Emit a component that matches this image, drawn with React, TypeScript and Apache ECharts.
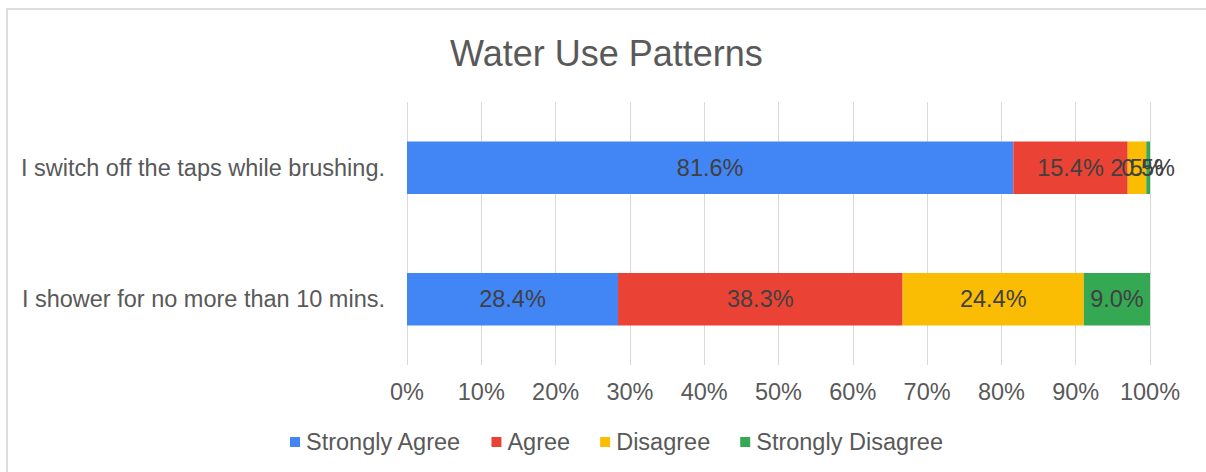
import React, { useEffect, useRef } from "react";
import * as echarts from "echarts";

const categories = ["I shower for no more than 10 mins.", "I switch off the taps while brushing."];
const seriesNames = ["Strongly Agree", "Agree", "Disagree", "Strongly Disagree"];
const stronglyAgree = [28.4, 81.6];
const agree = [38.3, 15.4];
const disagree = [24.4, 2.5];
const stronglyDisagree = [9.0, 0.5];
const colors = ["#4285F4", "#EA4335", "#FBBC04", "#34A853"];
const xTicks = [0, 10, 20, 30, 40, 50, 60, 70, 80, 90, 100];

export default function App() {
  const ref = useRef<HTMLDivElement>(null);
  useEffect(() => {
    if (!ref.current) return;
    const chart = echarts.init(ref.current, null, { renderer: "svg" });
    const font = "'Liberation Sans', Arial, sans-serif";
    const data = [stronglyAgree, agree, disagree, stronglyDisagree];
    chart.setOption({
      animation: false,
      textStyle: { fontFamily: font },
      title: {
        text: "Water Use Patterns",
        left: 445,
        top: 30,
        textStyle: { fontFamily: font, fontSize: 36, fontWeight: "normal", color: "#595959" },
      },
      legend: {
        bottom: 13,
        left: 285,
        itemWidth: 10,
        itemHeight: 10,
        itemGap: 30,
        icon: "rect",
        data: seriesNames,
        textStyle: { fontFamily: font, fontSize: 23.5, color: "#595959", padding: [0, 0, 0, 1] },
      },
      grid: { left: 407, right: 56, top: 102, bottom: 107, containLabel: false },
      xAxis: {
        type: "value",
        min: xTicks[0],
        max: xTicks[xTicks.length - 1],
        interval: 10,
        axisLine: { show: false },
        axisTick: { show: false },
        splitLine: { show: true, lineStyle: { color: "#d9d9d9", width: 1 } },
        axisLabel: {
          formatter: "{value}%",
          fontFamily: font,
          fontSize: 23.5,
          color: "#595959",
          margin: 15,
        },
      },
      yAxis: {
        type: "category",
        data: categories,
        axisLine: { show: false },
        axisTick: { show: false },
        axisLabel: { fontFamily: font, fontSize: 23.5, color: "#595959", margin: 22 },
      },
      graphic: [
        {
          type: "line",
          shape: { x1: 6, y1: 9, x2: 1206, y2: 9 },
          style: { stroke: "#dcdcdc", lineWidth: 2 },
          silent: true,
        },
        {
          type: "line",
          shape: { x1: 7, y1: 8, x2: 7, y2: 472 },
          style: { stroke: "#dcdcdc", lineWidth: 2 },
          silent: true,
        },
      ],
      series: seriesNames.map((name, i) => ({
        name,
        type: "bar",
        stack: "total",
        barCategoryGap: "60%",
        data: data[i],
        itemStyle: { color: colors[i] },
        label: {
          show: true,
          position: "inside",
          formatter: (p: any) => `${Number(p.value).toFixed(1)}%`,
          fontFamily: font,
          fontSize: 23.5,
          color: "#404040",
        },
        labelLayout: { hideOverlap: false },
      })),
    });
    return () => chart.dispose();
  }, []);
  return (
    <div
      ref={ref}
      style={{ position: "fixed", left: 0, top: 0, width: 1206, height: 472, background: "#fff" }}
    />
  );
}
